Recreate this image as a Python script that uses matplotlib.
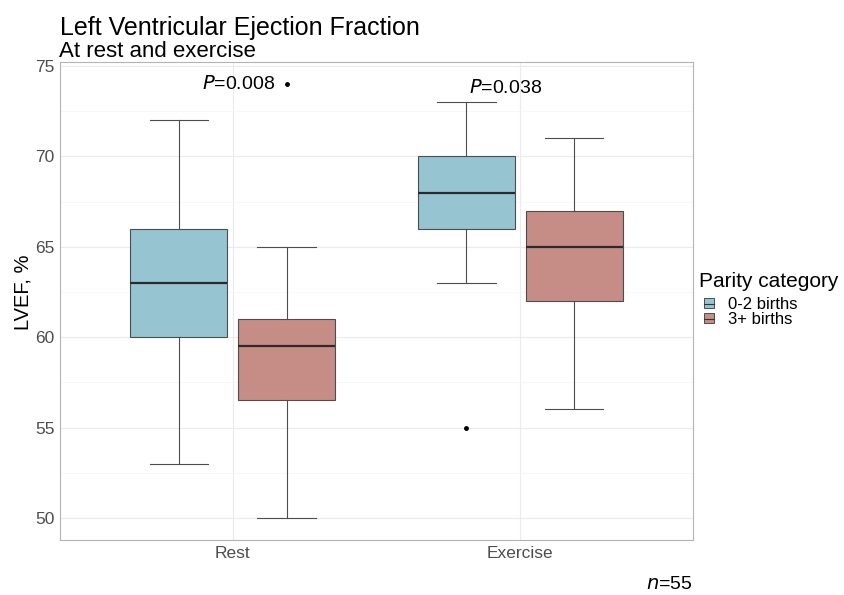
import matplotlib.pyplot as plt
from matplotlib.patches import Patch
from matplotlib.lines import Line2D
from matplotlib.legend_handler import HandlerTuple

plt.rcParams["font.family"] = ["Liberation Sans", "DejaVu Sans"]

# five-number summaries
conditions = ["Rest", "Exercise"]
groups = ["0-2 births", "3+ births"]
colors = ["#96c4d1", "#c58d86"]
whisk_low = [[53, 50], [63, 56]]
q1 = [[60, 56.5], [66, 62]]
median = [[63, 59.5], [68, 65]]
q3 = [[66, 61], [70, 67]]
whisk_high = [[72, 65], [73, 71]]
outliers = [[[], [74]], [[55], []]]
p_labels = ["0.008", "0.038"]
n_total = 55


def main():
    fig = plt.figure(figsize=(8.44, 5.95), dpi=100)
    ax = fig.add_axes([60 / 844, 55 / 595, 633 / 844, 478 / 595])

    width = 0.3375
    offsets = [-0.1875, 0.1875]
    for ci, cond in enumerate(conditions):
        for gi in range(len(groups)):
            stats = [dict(med=median[ci][gi], q1=q1[ci][gi], q3=q3[ci][gi],
                          whislo=whisk_low[ci][gi], whishi=whisk_high[ci][gi],
                          fliers=outliers[ci][gi])]
            ax.bxp(stats, positions=[ci + 1 + offsets[gi]], widths=width,
                   patch_artist=True, capwidths=width * 0.6,
                   boxprops=dict(facecolor=colors[gi], edgecolor="#4d4d4d", linewidth=0.8),
                   medianprops=dict(color="#2b2b2b", linewidth=1.6),
                   whiskerprops=dict(color="#4d4d4d", linewidth=0.8),
                   capprops=dict(color="#4d4d4d", linewidth=0.8),
                   flierprops=dict(marker="o", markersize=2.5, markerfacecolor="black",
                                   markeredgecolor="black"),
                   zorder=3)

    # p-value annotations
    ax.text(1.02, 74.03, r"$\it{P}$=" + p_labels[0], ha="center", va="center",
            fontsize=14, zorder=4)
    ax.text(1.95, 73.76, r"$\it{P}$=" + p_labels[1], ha="center", va="center",
            fontsize=14, zorder=4)

    ax.set_xlim(0.4, 2.6)
    ax.set_ylim(48.78, 75.22)
    ax.set_xticks([1, 2])
    ax.set_xticklabels(conditions)
    ax.set_yticks([50, 55, 60, 65, 70, 75])
    ax.set_yticks([52.5, 57.5, 62.5, 67.5, 72.5], minor=True)
    ax.grid(True, which="major", color="#ebebeb", linewidth=0.8, zorder=0)
    ax.grid(True, which="minor", axis="y", color="#f5f5f5", linewidth=0.5, zorder=0)
    ax.set_axisbelow(True)
    ax.tick_params(axis="both", which="both", length=0, colors="#4d4d4d", pad=4)
    ax.tick_params(axis="x", labelsize=12.5)
    ax.tick_params(axis="y", labelsize=12.5)
    for s in ax.spines.values():
        s.set_color("#b3b3b3")
        s.set_linewidth(0.8)
    ax.set_ylabel("LVEF, %", fontsize=14.5, va="center")
    ax.yaxis.set_label_coords(-(60 - 23) / 633, 0.519)

    fig.text(60 / 844, 1 - 35 / 595, "Left Ventricular Ejection Fraction", fontsize=18,
             va="baseline", ha="left")
    fig.text(59 / 844, 1 - 57 / 595, "At rest and exercise", fontsize=16,
             va="baseline", ha="left")
    fig.text(693 / 844, 1 - 589 / 595, r"$\it{n}$=" + str(n_total), fontsize=14,
             va="baseline", ha="right")

    fig.text(699 / 844, 1 - 287 / 595, "Parity category", fontsize=15,
             va="baseline", ha="left")
    handles = [(Patch(facecolor=c, edgecolor="#4d4d4d", linewidth=0.7),
                Line2D([], [], color="#333333", linewidth=0.8)) for c in colors]
    fig.legend(handles, groups, loc="upper left",
               bbox_to_anchor=(704 / 844, 1 - 297 / 595), frameon=False,
               fontsize=12, handlelength=0.6, handleheight=0.5,
               handletextpad=0.85, labelspacing=0.0, borderaxespad=0,
               borderpad=0, handler_map={tuple: HandlerTuple(ndivide=1)})

    fig.savefig("out.png", dpi=100)


if __name__ == "__main__":
    main()
